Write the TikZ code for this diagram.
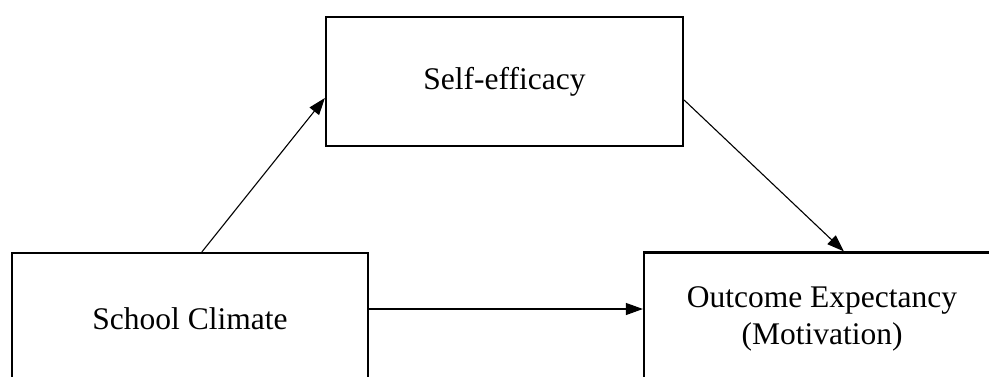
\documentclass[tikz,border=0pt]{standalone}
\usepackage{fontspec}
\setmainfont{Liberation Serif}
\usetikzlibrary{arrows.meta,calc}
\begin{document}
\begin{tikzpicture}[x=1pt,y=-1pt,
  box/.style={draw=black,line width=2.2pt,rectangle,inner sep=0pt,align=center,
    font=\fontsize{31.5}{36.5}\selectfont},
  arr/.style={line width=1.1pt,-{Triangle[length=17pt,width=12pt]}}]
\useasboundingbox (0,0) rectangle (989,376);
\clip (0,0) rectangle (989,376);
\node[box,minimum width=357pt,minimum height=129pt] (se) at (504.5,81.5) {Self-efficacy};
\node[box,minimum width=356pt,minimum height=132pt] (sc) at (190,319) {School Climate};
\node[box,minimum width=356pt,minimum height=133pt] (oe) at (822,319) {Outcome Expectancy\\(Motivation)};
\draw[arr] ($(sc.north west)+(191,0)$) -- ($(se.west)+(0,16.5)$);
\draw[arr] ($(se.east)+(0,18.5)$) -- ($(oe.north west)+(201,0)$);
\draw[arr] ($(sc.east)+(0,-10)$) -- ($(oe.west)+(0,-10)$);
\end{tikzpicture}
\end{document}
